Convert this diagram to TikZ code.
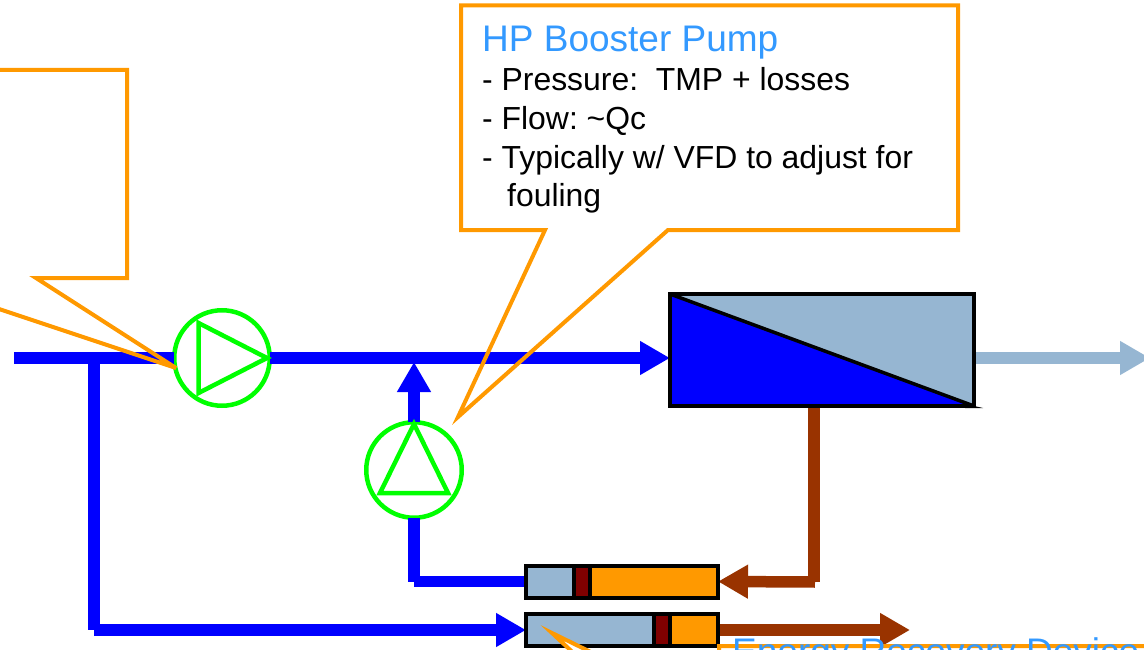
\documentclass[tikz,border=0pt]{standalone}
\usepackage{fontspec}
\setmainfont{Liberation Sans}
\usetikzlibrary{arrows.meta}
\definecolor{pipeblue}{RGB}{0,0,255}
\definecolor{permeate}{RGB}{150,182,210}
\definecolor{brine}{RGB}{153,51,0}
\definecolor{calloutorange}{RGB}{255,153,0}
\definecolor{pumpgreen}{RGB}{0,255,0}
\definecolor{headblue}{RGB}{51,153,255}
\definecolor{piston}{RGB}{128,0,0}
\tikzset{
  x=1pt,y=-1pt,
  pipe/.style={line width=11.5pt,draw=#1},
  pipearrow/.style={line width=11.5pt,draw=#1,-{Triangle[length=30pt,width=32pt,inset=0pt]}},
  pumpcircle/.style={circle,draw=pumpgreen,line width=4.5pt,minimum size=95.5pt,inner sep=0pt,outer sep=0pt,fill=none},
  pumptri/.style={draw=pumpgreen,line width=4.5pt,line join=miter},
  callout/.style={draw=calloutorange,line width=4pt,line join=miter,miter limit=8},
  boxframe/.style={draw=black,line width=4pt},
  head/.style={font=\fontsize{37}{39}\selectfont,text=headblue,anchor=base west,inner sep=0pt},
  body/.style={font=\fontsize{31.9}{39}\selectfont\frenchspacing,text=black,anchor=base west,inner sep=0pt},
}
\begin{document}
\begin{tikzpicture}
\useasboundingbox (0,0) rectangle (1144,650);
\clip (0,0) rectangle (1144,650);
% anchor coordinates
\coordinate (feedstart) at (14,358);
\coordinate (teeA) at (94,358);
\coordinate (lowcorner) at (94,630);
\coordinate (teeB) at (414,358);
\coordinate (boostercorner) at (414,581.5);
\coordinate (permend) at (1150,358);
\coordinate (brinecorner) at (814,582);
\coordinate (brineout) at (910,630);
% pumps
\node[pumpcircle] (hpp) at (222,358) {};
\node[pumpcircle] (bp) at (414,470) {};
% membrane
\node[minimum width=304pt,minimum height=112pt,inner sep=0pt,outer sep=0pt] (mem) at (822,350) {};
% ERD
\node[minimum width=192pt,minimum height=32pt,inner sep=0pt,outer sep=0pt] (erdA) at (622,581.5) {};
\node[minimum width=192pt,minimum height=32pt,inner sep=0pt,outer sep=0pt] (erdB) at (622,630) {};
% pipes
\draw[pipe=pipeblue] (feedstart) -- (hpp.west);
\draw[pipe=pipeblue] (hpp.east) -- (teeB);
\draw[pipearrow=pipeblue] (teeB) -- (mem.west |- teeB);
\draw[pipe=pipeblue] (teeA) -- (lowcorner);
\draw[pipearrow=pipeblue] (lowcorner) -- (erdB.west);
\draw[pipe=pipeblue] (bp.south) -- (boostercorner);
\draw[pipe=pipeblue] (boostercorner) -- (erdA.west);
\draw[pipearrow=pipeblue] (bp.north) -- (414,362);
\draw[pipearrow=permeate] (mem.east |- permend) -- (permend);
\draw[pipe=brine] (mem.south -| brinecorner) -- (brinecorner);
\draw[pipearrow=brine] (815,582) -- (erdA.east);
\draw[pipearrow=brine] (erdB.east) -- (brineout);
% membrane fill
\fill[permeate] (mem.north west) rectangle (mem.south east);
\fill[pipeblue] (mem.north west) -- (mem.south east) -- (mem.south west) -- cycle;
\draw[boxframe] (mem.north west) rectangle (mem.south east);
\draw[boxframe,line width=3.5pt] (mem.north west) -- (mem.south east);
\fill[black] (965,404) -- (983,408) -- (965,408) -- cycle;
% ERD A
\fill[permeate] (erdA.north west) rectangle (erdA.south east);
\fill[calloutorange] (590,565.5) rectangle (erdA.south east);
\draw[black,line width=4pt,fill=piston] (574,565.5) rectangle (590,597.5);
\draw[boxframe] (erdA.north west) rectangle (erdA.south east);
% ERD B
\fill[permeate] (erdB.north west) rectangle (erdB.south east);
\fill[calloutorange] (670,614) rectangle (erdB.south east);
\draw[black,line width=4pt,fill=piston] (654,614) rectangle (670,646);
\draw[boxframe] (erdB.north west) rectangle (erdB.south east);
% pump symbols
\draw[pumptri] (198.5,323) -- (267,358) -- (198.5,393) -- cycle;
\draw[pumptri] (414,424) -- (448,493) -- (380,493) -- cycle;
% callouts
\draw[callout] (-10,70) -- (127,70) -- (127,278) -- (36,278) -- (176,368) -- (-10,306);
\draw[callout] (461,5.5) -- (958,5.5) -- (958,230) -- (668,230) -- (458,417) -- (545,230) -- (461,230) -- cycle;
% callout text
\node[head] (t0) at (482,52) {HP Booster Pump};
\node[body] (t1) at (482,91) {- Pressure:\ \ TMP + losses};
\node[body] (t2) at (482,130) {- Flow: \textasciitilde Qc};
\node[body] (t3) at (482,168) {- Typically w/ VFD to adjust for};
\node[body] (t4) at (507,207) {fouling};
\draw[callout,fill=white] (1160,646) -- (719,646) -- (719,660) -- (607,660) -- (552,633) -- (581,660) -- (500,660);
\node[head] (t5) at (732,664) {Energy Recovery Device};
\end{tikzpicture}
\end{document}
